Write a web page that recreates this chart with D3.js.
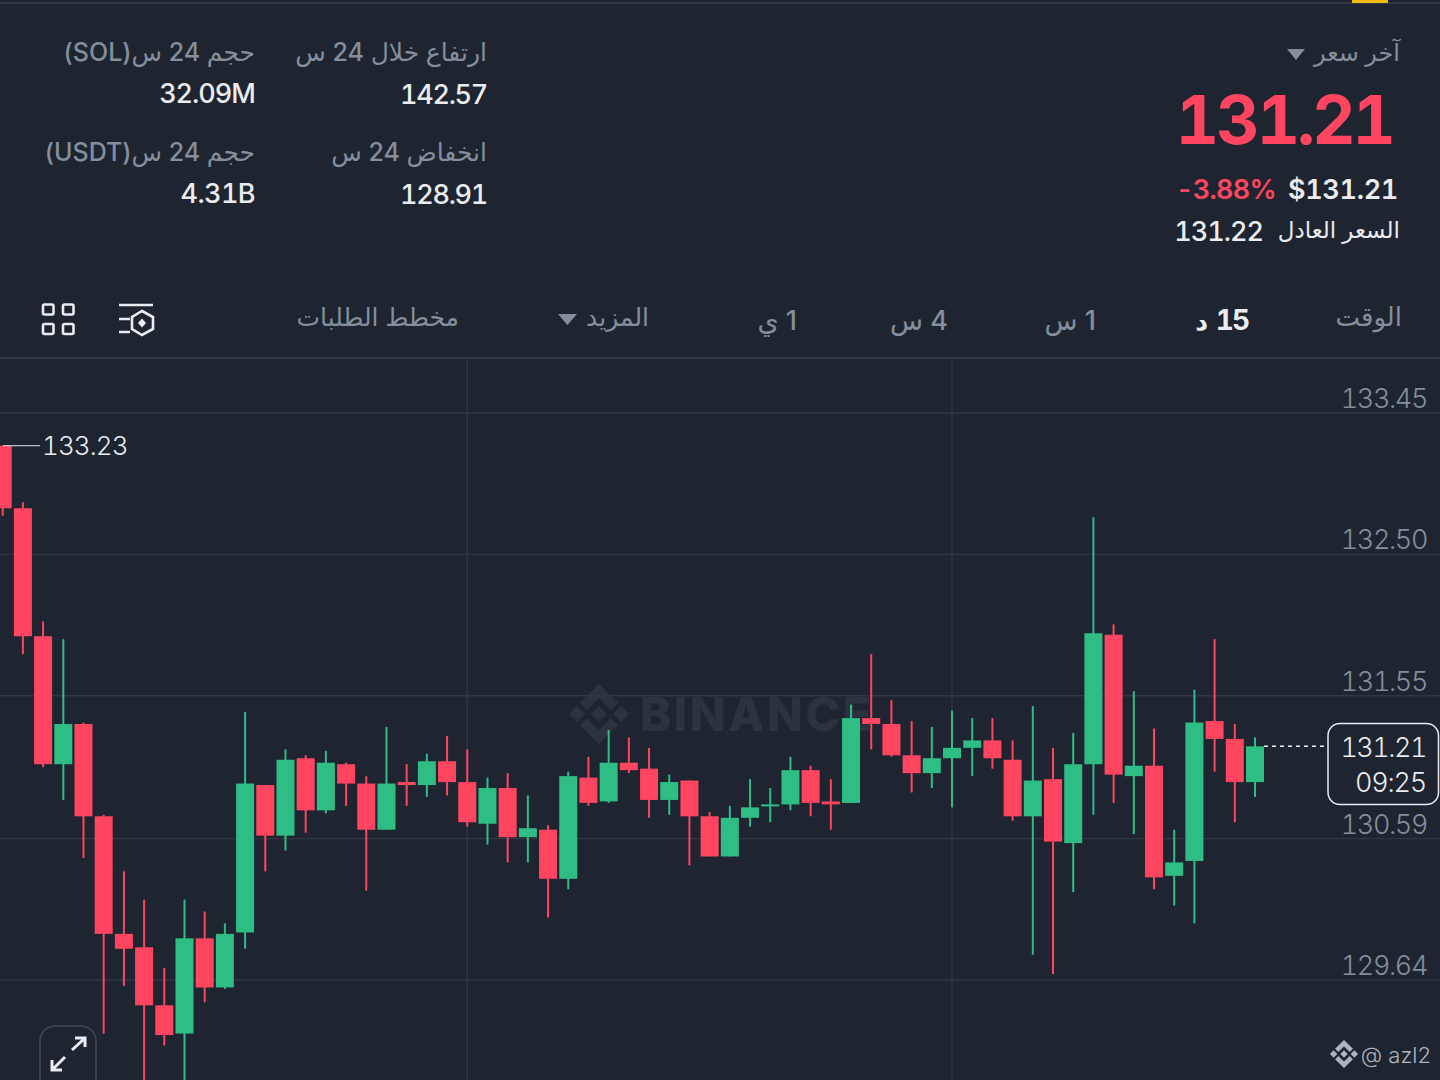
<!DOCTYPE html>
<html lang="ar">
<head>
<meta charset="utf-8">
<script src="https://cdn.jsdelivr.net/npm/d3@7"></script>
<style>
html,body{margin:0;padding:0;background:#1e2530;overflow:hidden}
svg{display:block}
text{font-family:Inter,"Noto Sans","DejaVu Sans",sans-serif}
.tn,.tick text{font-variant-numeric:tabular-nums;font-feature-settings:"tnum" 1}
</style>
</head>
<body>
<svg id="c" width="1440" height="1080"></svg>
<script>
const opens = [133.23,132.81,131.95,131.09,131.36,130.74,129.95,129.86,129.47,129.28,129.92,129.59,129.96,130.95,130.61,131.13,130.78,131.09,130.96,130.65,130.97,130.95,131.11,130.97,130.69,130.93,130.60,130.65,130.32,131.00,130.84,131.10,131.06,130.85,130.98,130.74,130.47,130.73,130.81,130.82,131.05,130.84,130.83,131.40,131.36,131.15,131.03,131.13,131.20,131.25,131.12,130.74,130.99,130.56,131.09,131.96,131.01,131.08,130.34,130.44,131.38,131.26,130.97];
const closes = [132.81,131.95,131.09,131.36,130.74,129.95,129.85,129.47,129.27,129.92,129.59,129.95,130.96,130.61,131.12,130.78,131.10,130.96,130.65,130.96,130.95,131.11,130.97,130.70,130.93,130.60,130.66,130.32,131.01,130.83,131.10,131.05,130.85,130.97,130.74,130.47,130.73,130.80,130.82,131.05,130.83,130.82,131.40,131.36,131.15,131.03,131.13,131.20,131.25,131.13,130.74,130.98,130.57,131.09,131.97,131.02,131.08,130.33,130.43,131.37,131.26,130.97,131.21];
const highs = [133.23,132.85,132.05,131.93,131.37,130.75,130.37,130.18,129.72,130.18,130.10,130.02,131.44,130.95,131.19,131.15,131.18,131.10,131.01,131.34,131.09,131.16,131.28,131.19,131.00,131.03,130.88,130.68,131.04,131.14,131.32,131.27,131.20,131.02,130.98,130.77,130.81,130.99,130.93,131.14,131.08,130.99,131.49,131.83,131.52,131.38,131.34,131.45,131.40,131.40,131.25,131.48,131.20,131.30,132.75,132.03,131.58,131.33,130.65,131.59,131.93,131.36,131.27];
const lows = [132.76,131.83,131.07,130.85,130.46,129.28,129.60,128.91,129.20,128.91,129.49,129.58,129.85,130.37,130.51,130.63,130.76,130.81,130.24,130.65,130.81,130.87,130.88,130.67,130.55,130.43,130.43,130.06,130.25,130.81,130.83,131.03,130.73,130.75,130.41,130.47,130.47,130.67,130.70,130.78,130.74,130.65,130.83,131.19,131.14,130.90,130.93,130.80,131.01,131.06,130.71,129.81,129.68,130.23,130.75,130.83,130.62,130.25,130.14,130.02,131.04,130.70,130.87];
const priceTicks = [133.45,132.50,131.55,130.59,129.64];
const timeGridIndex = [23,47];
const lastPrice = 131.21, countdown = "09:25", highLabel = 133.23;

const BG="#1e2530",GRID="#303742",RED="#ff4560",GREEN="#2ebd85",GRAY="#848e9c",WHITE="#eaecef";
const svg=d3.select("#c");
svg.append("rect").attr("width",1440).attr("height",1080).attr("fill",BG);

const x=d3.scaleLinear().domain([0,62]).range([2.7,1255]);
const y=d3.scaleLinear().domain([133.45,129.64]).range([413,980]);

// header rules
svg.append("line").attr("x1",0).attr("x2",1440).attr("y1",3).attr("y2",3).attr("stroke",GRID).attr("stroke-width",2);
svg.append("rect").attr("x",1352).attr("y",0).attr("width",36).attr("height",3).attr("fill","#f0b90b");
svg.append("line").attr("x1",0).attr("x2",1440).attr("y1",358).attr("y2",358).attr("stroke",GRID).attr("stroke-width",2);

function logo(g,cx,cy,s,fill){
  const gg=g.append("g").attr("transform",`translate(${cx},${cy}) scale(${s})`).attr("fill",fill);
  const polys=[
    "0,-30 19,-11 12,-4 0,-16 -12,-4 -19,-11",
    "0,30 19,11 12,4 0,16 -12,4 -19,11",
    "-22,-8 -14,0 -22,8 -30,0",
    "22,-8 30,0 22,8 14,0",
    "0,-8 8,0 0,8 -8,0"];
  gg.selectAll("polygon").data(polys).join("polygon").attr("points",d=>d);
}

// watermark
logo(svg,599,714,1,"#2c333e");
svg.append("text").attr("x",640).attr("y",731).attr("font-size",47).attr("font-weight",800)
  .attr("letter-spacing",2.5).attr("fill","#2c333e").text("BINANCE");

// axes
const yAxis=d3.axisLeft(y).tickValues(priceTicks).tickSize(1440).tickFormat(d3.format(".2f")).offset(0);
const ya=svg.append("g").attr("transform","translate(1440,0)").call(yAxis);
ya.select(".domain").remove();
ya.selectAll(".tick line").attr("stroke",GRID).attr("stroke-width",1.4);
ya.selectAll(".tick text").attr("x",-13).attr("dy",-5).attr("text-anchor","end")
  .attr("fill",GRAY).attr("font-size",27).attr("font-weight",300).attr("letter-spacing",-1.4)
  .style("font-family","Inter");
const xAxis=d3.axisBottom(x).tickValues(timeGridIndex).tickSize(722).tickFormat("").offset(0);
const xa=svg.append("g").attr("transform","translate(0,358)").call(xAxis);
xa.select(".domain").remove();
xa.selectAll(".tick line").attr("stroke",GRID).attr("stroke-width",1.4);

// candles
const candles=d3.range(opens.length).map(i=>({i,o:opens[i],c:closes[i],h:highs[i],l:lows[i]}));
const col=d=>d.c>=d.o?GREEN:RED;
const gc=svg.append("g");
gc.selectAll(".w").data(candles).join("line").attr("class","w")
  .attr("x1",d=>x(d.i)).attr("x2",d=>x(d.i)).attr("y1",d=>y(d.h)).attr("y2",d=>y(d.l))
  .attr("stroke",col).attr("stroke-width",2);
gc.selectAll(".b").data(candles).join("rect").attr("class","b")
  .attr("x",d=>x(d.i)-9).attr("width",18)
  .attr("y",d=>y(Math.max(d.o,d.c))).attr("height",d=>Math.max(2,Math.abs(y(d.o)-y(d.c))))
  .attr("fill",col);

function num(xp,yp,t,size,fill,w,ls,anchor){
  return svg.append("text").attr("class","tn").attr("x",xp).attr("y",yp).attr("text-anchor",anchor||"end")
    .attr("font-size",size).attr("fill",fill).attr("font-weight",w||500).attr("letter-spacing",ls||0).text(t);
}
function ar(xp,yp,t,size,fill,w){
  return svg.append("text").attr("x",xp).attr("y",yp).attr("direction","rtl").style("direction","rtl")
    .attr("text-anchor","start").attr("font-size",size).attr("fill",fill).attr("font-weight",w||500).text(t);
}

// high label
svg.append("line").attr("x1",3).attr("x2",40).attr("y1",y(highLabel)).attr("y2",y(highLabel)).attr("stroke",WHITE).attr("stroke-width",1);
num(42,y(highLabel)+9,highLabel.toFixed(2),26,WHITE,300,-0.9,"start");

// last price
svg.append("line").attr("x1",x(62)+9).attr("x2",1328).attr("y1",y(lastPrice)).attr("y2",y(lastPrice))
  .attr("stroke",WHITE).attr("stroke-width",1.5).attr("stroke-dasharray","4 4");
svg.append("rect").attr("x",1328).attr("y",723.5).attr("width",110.5).attr("height",81).attr("rx",12)
  .attr("fill",BG).attr("stroke",WHITE).attr("stroke-width",1.5);
num(1426,757,lastPrice.toFixed(2),27,WHITE,300,-1.5);
num(1426,792,countdown,27,WHITE,300,-1.2);

// header texts
ar(1400,61,"آخر سعر",24,GRAY);
svg.append("path").attr("d","M1287,49H1305L1296,60Z").attr("fill",GRAY);
num(1393,144,"131.21",67,RED,700,-2.9);
num(1276,199,"-3.88%",27,RED,600,-0.7);
num(1398,199,"$131.21",27,WHITE,600,-0.3);
ar(1400,238,"السعر العادل",23,WHITE);
num(1263,241,"131.22",27,WHITE,500,-1);

ar(487,61,"ارتفاع خلال 24 س",25,GRAY);
num(487,104,"142.57",27,WHITE,500,-1.3);
ar(487,161,"انخفاض 24 س",25,GRAY);
num(487,204,"128.91",27,WHITE,500,-1.3);
ar(255,61,"حجم 24 س(SOL)",25,GRAY);
num(255,103,"32.09M",27,WHITE,500,-1);
ar(255,161,"حجم 24 س(USDT)",25,GRAY);
num(255,203,"4.31B",27,WHITE,500,-0.6);

// tabs
ar(1402,326,"الوقت",26,GRAY);
num(1248,330,"15",28,WHITE,700,-2);
ar(1208,330,"د",25,WHITE,700);
ar(1096,330,"1 س",27,GRAY);
ar(948,330,"4 س",27,GRAY);
ar(797,330,"1 ي",27,GRAY);
ar(649,326,"المزيد",25,GRAY);
svg.append("path").attr("d","M558,314H577L567.5,325Z").attr("fill",GRAY);
ar(459,326,"مخطط الطلبات",25,GRAY);

// icons
const ic=svg.append("g").attr("fill","none").attr("stroke",WHITE).attr("stroke-width",2.6);
[[43,304.5],[63,304.5],[43,324],[63,324]].forEach(p=>ic.append("rect").attr("x",p[0]).attr("y",p[1]).attr("width",10.5).attr("height",10).attr("rx",1.5));
ic.append("path").attr("d","M119,305H153M119,319H130M119,332H130");
ic.append("path").attr("d","M142,311L153,317V329L142,335L132,329V317Z");
svg.append("path").attr("d","M142,318.5L146,323L142,327.5L138,323Z").attr("fill",WHITE);

// expand button
svg.append("rect").attr("x",40).attr("y",1026).attr("width",56).attr("height",70).attr("rx",15)
  .attr("fill",BG).attr("stroke","#3a414c").attr("stroke-width",2);
const ex=svg.append("g").attr("fill","none").attr("stroke",WHITE).attr("stroke-width",3);
ex.append("path").attr("d","M72,1050L84,1039M75,1038H85V1047");
ex.append("path").attr("d","M65,1057L53,1069M52,1060V1070H62");

// footer
logo(svg,1344,1054,0.47,"#aeb4bc");
svg.append("text").attr("x",1431).attr("y",1063).attr("text-anchor","end").attr("font-size",22).attr("font-weight",300).attr("fill","#aeb4bc").text("@ azl2");
</script>
</body>
</html>
